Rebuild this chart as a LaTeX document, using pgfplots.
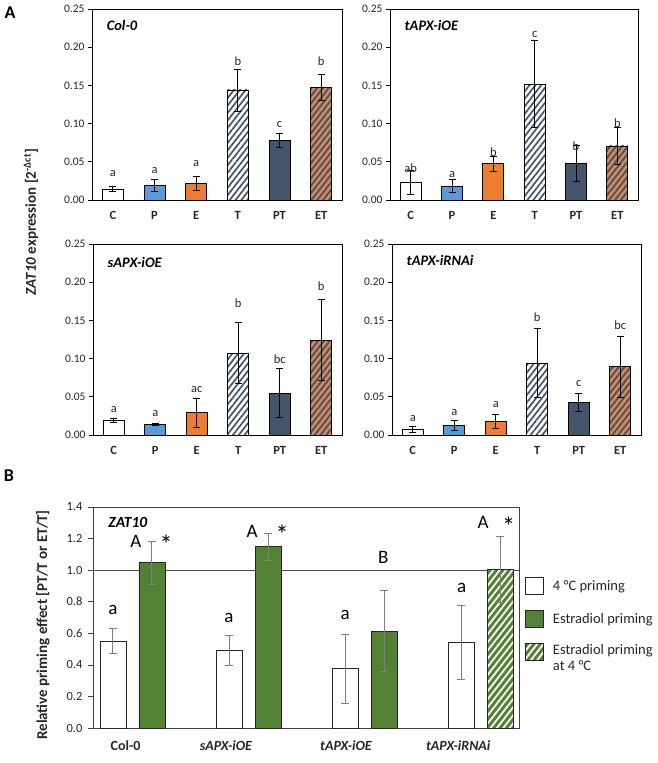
\documentclass[border=0pt]{standalone}
\usepackage{fontspec}
\setmainfont{Carlito}
\usepackage{pgfplots}
\pgfplotsset{compat=1.18}
\usetikzlibrary{patterns.meta}
\definecolor{cBlue}{HTML}{5B9BD5}
\definecolor{cOrange}{HTML}{ED7D31}
\definecolor{cSlate}{HTML}{44546A}
\definecolor{cET}{HTML}{DC8A52}
\definecolor{cGreen}{HTML}{548235}
\definecolor{cErr}{HTML}{7F7F7F}
\definecolor{cTxt}{HTML}{262626}
\newcommand\fs[1]{\fontsize{#1}{#1}\selectfont}
\tikzset{ttl/.style={anchor=west, font=\bfseries\itshape\fs{14.5}, text=black}}
\pgfplotsset{
  pA/.style={
    scale only axis, width=250pt, height=191pt,
    xmin=-0.5, xmax=5.5, ymin=0, ymax=0.25,
    ytick={0,0.05,0.1,0.15,0.2,0.25},
    xtick={0,1,2,3,4,5}, xticklabels={C,P,E,T,PT,ET},
    tick align=outside, major tick length=4pt,
    ytick pos=left, xtick pos=bottom,
    x tick style={draw=none},
    y tick style={black, line width=0.6pt},
    axis line style={black, line width=0.8pt},
    yticklabel style={font=\fs{11.5}, text=cTxt, /pgf/number format/.cd, fixed, fixed zerofill, precision=2, assume math mode=true},
    xticklabel style={font=\bfseries\fs{12.5}, text=cTxt},
    xticklabel shift=4pt,
    ybar, bar width=21pt, bar shift=0pt,
    clip=false,
  },
  ebA/.style={error bars/.cd, y dir=both, y explicit,
    error bar style={black, line width=0.8pt},
    error mark options={rotate=90, black, mark size=3.5pt, line width=0.8pt}},
  barC/.style={fill=white, draw=black, line width=0.8pt, ebA},
  barP/.style={fill=cBlue, draw=black, line width=0.8pt, ebA},
  barE/.style={fill=cOrange, draw=black, line width=0.8pt, ebA},
  barT/.style={draw=black, line width=0.8pt, preaction={fill=white},
    pattern={Lines[angle=52,distance=4.6pt,line width=1.7pt]}, pattern color=cSlate, ebA},
  barPT/.style={fill=cSlate, draw=black, line width=0.8pt, ebA},
  barET/.style={draw=black, line width=0.8pt, preaction={fill=cET},
    pattern={Lines[angle=52,distance=4.6pt,line width=1.9pt]}, pattern color=cSlate, ebA},
  labA/.style={only marks, mark=none, forget plot, point meta=explicit symbolic, bar shift=0pt,
    nodes near coords, nodes near coords style={anchor=center, inner sep=0pt, font=\fs{12.5}, text=cTxt}},
  pB/.style={
    scale only axis, width=426pt, height=221pt,
    xmin=-0.34, xmax=3.33, ymin=0, ymax=1.4,
    ytick={0,0.2,0.4,0.6,0.8,1.0,1.2,1.4},
    xtick={-0.06,0.806,1.84,2.806},
    xticklabels={Col-0,\textit{sAPX-iOE},\textit{tAPX-iOE},\textit{tAPX-iRNAi}},
    tick align=outside, major tick length=5pt,
    ytick pos=left, xtick pos=bottom,
    x tick style={draw=none},
    y tick style={black!75, line width=0.6pt},
    axis line style={black!75, line width=0.8pt},
    yticklabel style={font=\fs{12.5}, text=cTxt, /pgf/number format/.cd, fixed, fixed zerofill, precision=1, assume math mode=true},
    yticklabel shift=2pt,
    xticklabel style={font=\bfseries\fs{14}, text=cTxt},
    xticklabel shift=4pt,
    ybar, bar width=26pt,
    clip=false,
    legend style={at={(1.014,0.683)}, anchor=north west, draw=none, fill=none,
      inner sep=0pt, row sep=15pt, column sep=9pt, nodes={inner sep=0pt},
      font=\fs{14.5}, text=cTxt},
    legend cell align=left,
  },
  ebB/.style={error bars/.cd, y dir=both, y explicit,
    error bar style={cErr, line width=1pt},
    error mark options={rotate=90, cErr, mark size=4pt, line width=1pt}},
  legbox/.style={legend image code/.code={\draw[##1] (0pt,-8.5pt) rectangle (18pt,8.5pt);}},
  labB/.style={only marks, mark=none, forget plot, point meta=explicit symbolic, bar shift=0pt,
    nodes near coords, nodes near coords style={anchor=center, inner sep=0pt, font=\fs{#1}, text=black}},
}
\begin{document}
\begin{tikzpicture}
\path[use as bounding box] (0pt,0pt) rectangle (658pt,763pt);
\node[font=\bfseries\fs{18}] at (10pt,750pt) {A};
\node[font=\bfseries\fs{18}] at (9pt,287pt) {B};
\node[rotate=90, font=\bfseries\fs{15}, text=cTxt] at (31pt,541pt) {\textit{ZAT10} expression [2\textsuperscript{-Δct}]};
\node[rotate=90, font=\bfseries\fs{15}, text=cTxt] at (43pt,138pt) {Relative priming effect [PT/T or ET/T]};

% ---------------- Col-0
\begin{axis}[pA, at={(92pt,563pt)}, anchor=south west]
\addplot[barC]  coordinates {(0,0.0144) +- (0,0.003)};
\addplot[barP]  coordinates {(1,0.0188) +- (0,0.008)};
\addplot[barE]  coordinates {(2,0.0218) +- (0,0.0096)};
\addplot[barT]  coordinates {(3,0.1440) +- (0,0.0275)};
\addplot[barPT] coordinates {(4,0.0777) +- (0,0.009)};
\addplot[barET] coordinates {(5,0.1475) +- (0,0.0166)};
\addplot[labA] coordinates {(0,0.035)[a] (1,0.039)[a] (2,0.048)[a] (3,0.182)[b] (4,0.099)[c] (5,0.182)[b]};
\node[ttl] at (rel axis cs:0.045,0.915) {Col-0};
\end{axis}

% ---------------- tAPX-iOE
\begin{axis}[pA, at={(390pt,563pt)}, anchor=south west, width=248pt]
\addplot[barC]  coordinates {(0,0.0231) +- (0,0.0155)};
\addplot[barP]  coordinates {(1,0.0183) +- (0,0.009)};
\addplot[barE]  coordinates {(2,0.0476) +- (0,0.010)};
\addplot[barT]  coordinates {(3,0.1514) +- (0,0.057)};
\addplot[barPT] coordinates {(4,0.0484) +- (0,0.0235)};
\addplot[barET] coordinates {(5,0.0707) +- (0,0.0246)};
\addplot[labA] coordinates {(0,0.0414)[ab] (1,0.0336)[a] (2,0.062)[b] (3,0.216)[c] (4,0.071)[b] (5,0.100)[b]};
\node[ttl] at (rel axis cs:0.045,0.915) {tAPX-iOE};
\end{axis}

% ---------------- sAPX-iOE
\begin{axis}[pA, at={(93pt,328pt)}, anchor=south west, width=249pt]
\addplot[barC]  coordinates {(0,0.0192) +- (0,0.003)};
\addplot[barP]  coordinates {(1,0.0140) +- (0,0.0015)};
\addplot[barE]  coordinates {(2,0.0293) +- (0,0.0188)};
\addplot[barT]  coordinates {(3,0.1070) +- (0,0.040)};
\addplot[barPT] coordinates {(4,0.0551) +- (0,0.032)};
\addplot[barET] coordinates {(5,0.1240) +- (0,0.053)};
\addplot[labA] coordinates {(0,0.0328)[a] (1,0.0275)[a] (2,0.059)[ac] (3,0.172)[b] (4,0.099)[bc] (5,0.195)[b]};
\node[ttl] at (rel axis cs:0.045,0.905) {sAPX-iOE};
\end{axis}

% ---------------- tAPX-iRNAi
\begin{axis}[pA, at={(392pt,328pt)}, anchor=south west, width=249pt]
\addplot[barC]  coordinates {(0,0.0074) +- (0,0.0035)};
\addplot[barP]  coordinates {(1,0.0122) +- (0,0.0066)};
\addplot[barE]  coordinates {(2,0.0179) +- (0,0.0094)};
\addplot[barT]  coordinates {(3,0.0940) +- (0,0.045)};
\addplot[barPT] coordinates {(4,0.0424) +- (0,0.012)};
\addplot[barET] coordinates {(5,0.0892) +- (0,0.0405)};
\addplot[labA] coordinates {(0,0.021)[a] (1,0.0293)[a] (2,0.0393)[a] (3,0.154)[b] (4,0.0669)[c] (5,0.144)[bc]};
\node[ttl] at (rel axis cs:0.045,0.915) {tAPX-iRNAi};
\end{axis}

% ---------------- Panel B
\begin{axis}[pB, at={(93pt,35pt)}, anchor=south west]
\addplot[sharp plot, black!70, line width=0.7pt, forget plot, mark=none] coordinates {(-0.34,1) (3.33,1)};
\addplot[fill=white, draw=cTxt, line width=0.8pt, bar shift=-19.5pt, legbox, ebB]
  coordinates {(0,0.551) +- (0,0.082) (1,0.489) +- (0,0.095) (2,0.375) +- (0,0.22) (3,0.540) +- (0,0.235)};
\addlegendentry{4 °C priming}
\addplot[fill=cGreen, draw=cTxt, line width=0.8pt, bar shift=19.5pt, legbox, ebB]
  coordinates {(0,1.046) +- (0,0.135) (1,1.148) +- (0,0.084) (2,0.614) +- (0,0.254)};
\addlegendentry{Estradiol priming}
\addplot[draw=cTxt, line width=0.8pt, bar shift=19.5pt, preaction={fill=cGreen},
  pattern={Lines[angle=52,distance=5pt,line width=1.8pt]}, pattern color=white, legbox, ebB]
  coordinates {(3,1.005) +- (0,0.21)};
\addlegendentry{\smash{\raisebox{-3.5pt}{\begin{tabular}[t]{@{}l@{}}Estradiol priming\\[1pt]at 4 °C\end{tabular}}}}
\addplot[labB=19] coordinates {(-0.168,0.747)[a] (0.832,0.697)[a] (1.832,0.716)[a] (2.836,0.887)[a]
  (0.03,1.18)[A] (1.03,1.243)[A] (3.02,1.30)[A] (2.16,1.083)[B]};
\addplot[labB=26] coordinates {(0.289,1.165)[*] (1.289,1.225)[*] (3.24,1.275)[*]};
\node[anchor=west, font=\bfseries\itshape\fs{15.5}] at (rel axis cs:0.028,0.93) {ZAT10};
\end{axis}
\end{tikzpicture}
\end{document}
